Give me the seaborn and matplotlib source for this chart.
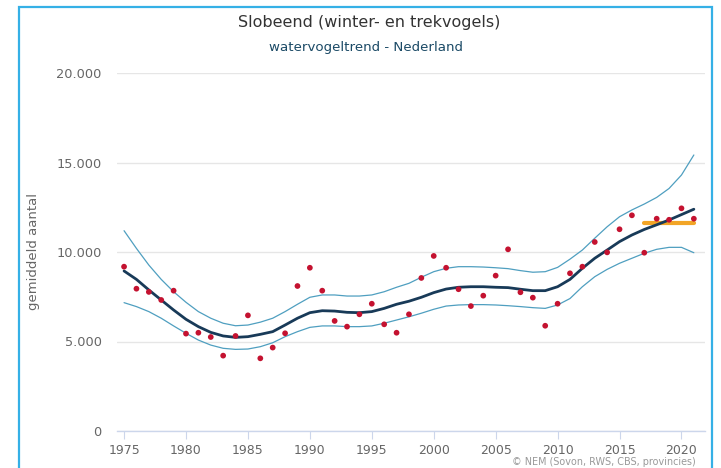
import matplotlib
matplotlib.use("Agg")
import matplotlib.pyplot as plt
import matplotlib.ticker as mticker
from matplotlib.patches import Rectangle
import seaborn as sns

# Data
years = list(range(1975, 2022))

counts = [9180, 7950, 7770, 7320, 7840, 5440, 5490, 5250, 4210, 5310,
          6460, 4060, 4660, 5460, 8100, 9120, 7840, 6150, 5830, 6520,
          7110, 5960, 5490, 6520, 8550, 9780, 9120, 7920, 6980, 7560,
          8680, 10150, 7750, 7450, 5880, 7110, 8810, 9180, 10560, 9980,
          11270, 12050, 9960, 11860, 11800, 12440, 11860]

trend = [8940, 8470, 7880, 7320, 6760, 6240, 5830, 5510, 5310, 5230,
         5270, 5400, 5550, 5920, 6300, 6610, 6720, 6700, 6630, 6610,
         6670, 6850, 7080, 7250, 7470, 7730, 7930, 8030, 8060, 8060,
         8030, 8010, 7920, 7840, 7840, 8060, 8470, 9090, 9650, 10110,
         10580, 10950, 11260, 11520, 11790, 12090, 12390]

upper = [11190, 10200, 9270, 8470, 7780, 7190, 6670, 6300, 6020, 5880,
         5920, 6080, 6300, 6670, 7080, 7470, 7600, 7600, 7540, 7540,
         7600, 7780, 8030, 8250, 8590, 8900, 9090, 9180, 9180, 9160,
         9120, 9070, 8960, 8870, 8900, 9140, 9600, 10110, 10770, 11410,
         11970, 12350, 12680, 13050, 13550, 14300, 15420]

lower = [7170, 6950, 6670, 6300, 5870, 5460, 5080, 4800, 4620, 4560,
         4580, 4710, 4930, 5270, 5550, 5790, 5870, 5870, 5830, 5830,
         5870, 6020, 6200, 6380, 6580, 6800, 6980, 7040, 7060, 7060,
         7040, 7000, 6950, 6890, 6850, 7040, 7400, 8060, 8620, 9030,
         9370, 9650, 9930, 10150, 10260, 10260, 9960]

ref_years = [2017, 2021]
ref_level = [11600, 11600]

xticks = list(range(1975, 2021, 5))
yticks = [0, 5000, 10000, 15000, 20000]

sns.set_style("white")
plt.rcParams['font.family'] = ['DejaVu Sans']

fig = plt.figure(figsize=(7.21, 4.68), dpi=100)
ax = fig.add_axes([117 / 721, 37 / 468, 588 / 721, 358 / 468])

# confidence band lines
sns.lineplot(x=years, y=upper, ax=ax, color="#4f9fc0", linewidth=0.9, zorder=2)
sns.lineplot(x=years, y=lower, ax=ax, color="#4f9fc0", linewidth=0.9, zorder=2)
# reference level
sns.lineplot(x=ref_years, y=ref_level, ax=ax, color="#f2a526", linewidth=3, zorder=3)
# trend
sns.lineplot(x=years, y=trend, ax=ax, color="#183a58", linewidth=2.0, zorder=4)
# yearly counts
sns.scatterplot(x=years, y=counts, ax=ax, color="#c41230", s=17,
                edgecolor="none", zorder=5)

ax.set_xlim(1974.43, 2021.9)
ax.set_ylim(0, 20000)
ax.set_xticks(xticks)
ax.set_yticks(yticks)
ax.yaxis.set_major_formatter(
    mticker.FuncFormatter(lambda v, p: f"{int(v):,}".replace(",", ".")))

ax.grid(axis="y", color="#e6e6e6", linewidth=1)
ax.grid(axis="x", visible=False)
for side in ["top", "right", "left"]:
    ax.spines[side].set_visible(False)
ax.spines["bottom"].set_color("#ccd6eb")
ax.spines["bottom"].set_linewidth(1)

ax.tick_params(axis="x", colors="#666666", labelsize=9, length=6,
               width=0.8, direction="out", pad=3, bottom=True)
ax.tick_params(axis="x", color="#ccd6eb")
ax.tick_params(axis="y", colors="#666666", labelsize=9.3, length=0, pad=11)

ax.set_ylabel("gemiddeld aantal", fontsize=9.5, color="#666666", labelpad=12)
ax.set_xlabel("")

# titles
fig.text(369 / 721, 1 - 22 / 468, "Slobeend (winter- en trekvogels)",
         ha="center", va="center", fontsize=11.5, color="#333333")
fig.text(366 / 721, 1 - 48 / 468, "watervogeltrend - Nederland",
         ha="center", va="center", fontsize=9.6, color="#1b4a66")

# credits
fig.text(696 / 721, 1 - 462 / 468, "© NEM (Sovon, RWS, CBS, provincies)",
         ha="right", va="center", fontsize=6.9, color="#999999")

# blue frame around the chart
fig.patches.append(Rectangle((19 / 721, -0.05), (712 - 19) / 721, 1.05 - 7 / 468,
                             transform=fig.transFigure, fill=False,
                             edgecolor="#35b0e6", linewidth=1.6, zorder=10))

fig.savefig("out.png", dpi=100, facecolor="white")
